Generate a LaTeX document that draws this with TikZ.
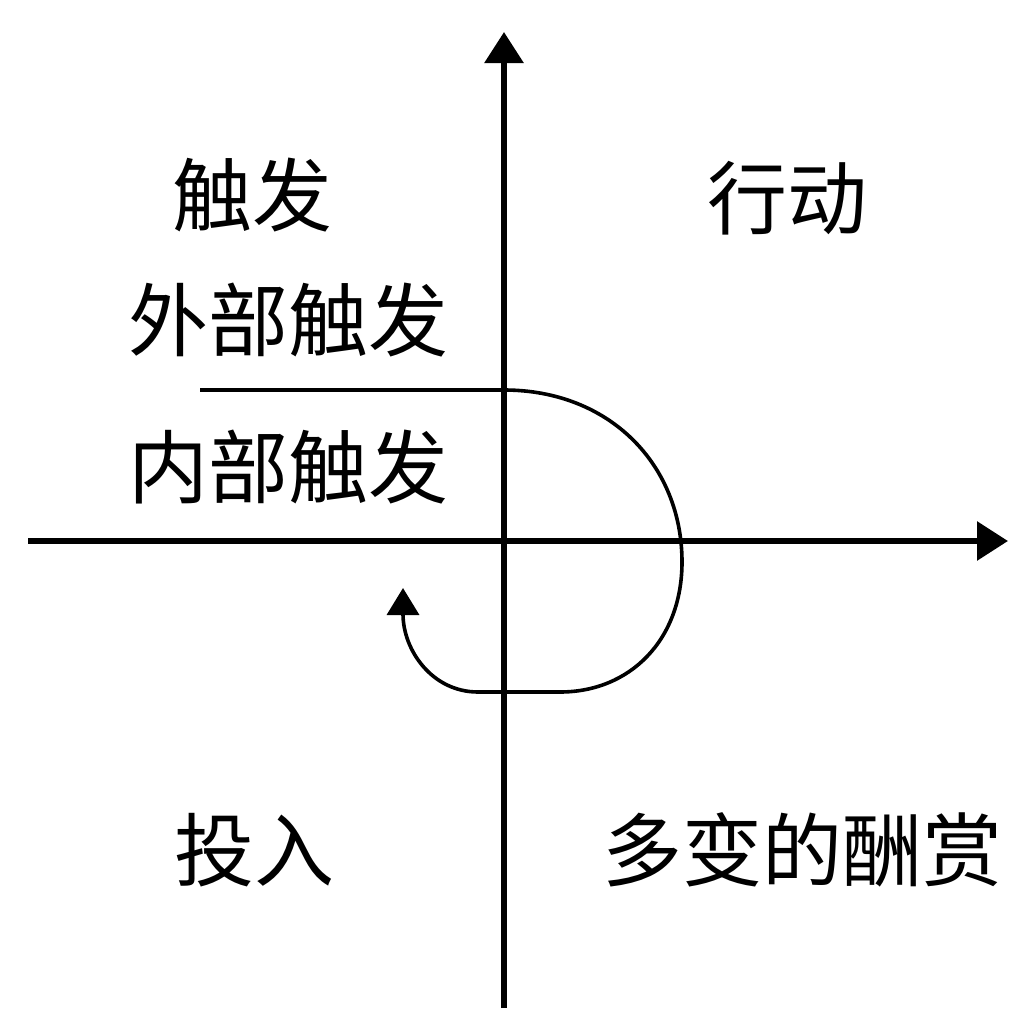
\documentclass[tikz,border=0pt]{standalone}
\usepackage{fontspec}
\newfontfamily\cjk{Noto Sans CJK SC}
\usetikzlibrary{arrows.meta}
\begin{document}
\begin{tikzpicture}[x=1pt,y=-1pt,
  axis/.style={line width=6pt,-{Triangle[length=31pt,width=38pt]}},
  loopline/.style={line width=3.6pt,-{Triangle[length=27pt,width=32pt]}},
  lbl/.style={font=\cjk\fontsize{80}{80}\selectfont, inner sep=0pt}]
\fill[white] (0,0) rectangle (1009,1009);
\useasboundingbox (0,0) rectangle (1009,1009);
\coordinate (xs) at (28,541);
\coordinate (xe) at (1008,541);
\coordinate (ys) at (504,1008);
\coordinate (ye) at (504,32);
\draw[axis] (xs) -- (xe);
\draw[axis] (ys) -- (ye);
\coordinate (l0) at (200,390);
\coordinate (l1) at (504,390);
\coordinate (l2) at (682,562);
\coordinate (l3) at (560,692);
\coordinate (l4) at (478,692);
\coordinate (l5) at (403,588);
\draw[loopline] (l0) -- (l1) .. controls (610,390) and (682,465) .. (l2)
  .. controls (682,640) and (630,692) .. (l3) -- (l4)
  .. controls (432,692) and (403,650) .. (l5);
\node[lbl] (chufa) at (252,195) {触发};
\node[lbl] (xingdong) at (787,198) {行动};
\node[lbl] (waibu) at (288,320) {外部触发};
\node[lbl] (neibu) at (288,467) {内部触发};
\node[lbl] (touru) at (254,850) {投入};
\node[lbl] (choushang) at (802,850) {多变的酬赏};
\end{tikzpicture}
\end{document}
